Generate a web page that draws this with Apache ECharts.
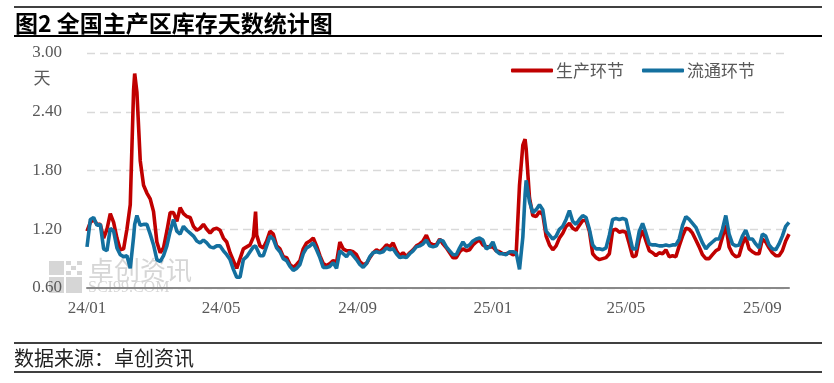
<!DOCTYPE html>
<html><head><meta charset="utf-8">
<script src="https://cdn.jsdelivr.net/npm/echarts@6/dist/echarts.min.js"></script>
<style>html,body{margin:0;padding:0;background:#fff}#c{width:834px;height:383px}</style>
</head><body><div id="c"></div>
<script>
// ---- data ----
const dates = [
'2024-01-01','2024-01-04','2024-01-07','2024-01-10','2024-01-13','2024-01-16','2024-01-19','2024-01-22','2024-01-25','2024-01-28','2024-01-31',
'2024-02-03','2024-02-06','2024-02-09','2024-02-12','2024-02-13','2024-02-15','2024-02-18','2024-02-21','2024-02-24','2024-02-27',
'2024-03-01','2024-03-04','2024-03-07','2024-03-10','2024-03-13','2024-03-16','2024-03-19','2024-03-22','2024-03-25','2024-03-28','2024-03-31',
'2024-04-03','2024-04-06','2024-04-09','2024-04-12','2024-04-15','2024-04-18','2024-04-21','2024-04-24','2024-04-27','2024-04-30',
'2024-05-03','2024-05-06','2024-05-09','2024-05-12','2024-05-15','2024-05-18','2024-05-21','2024-05-24','2024-05-27','2024-05-30',
'2024-06-01','2024-06-02','2024-06-05','2024-06-08','2024-06-11','2024-06-14','2024-06-17','2024-06-20','2024-06-23','2024-06-26','2024-06-29',
'2024-07-02','2024-07-05','2024-07-08','2024-07-11','2024-07-14','2024-07-17','2024-07-20','2024-07-23','2024-07-26','2024-07-29',
'2024-08-01','2024-08-04','2024-08-07','2024-08-10','2024-08-13','2024-08-16','2024-08-19','2024-08-22','2024-08-25','2024-08-28','2024-08-31',
'2024-09-03','2024-09-06','2024-09-09','2024-09-12','2024-09-15','2024-09-18','2024-09-21','2024-09-24','2024-09-27','2024-09-30',
'2024-10-03','2024-10-06','2024-10-09','2024-10-12','2024-10-15','2024-10-18','2024-10-21','2024-10-24','2024-10-27','2024-10-30',
'2024-11-02','2024-11-05','2024-11-08','2024-11-11','2024-11-14','2024-11-17','2024-11-20','2024-11-23','2024-11-26','2024-11-29',
'2024-12-02','2024-12-05','2024-12-08','2024-12-11','2024-12-14','2024-12-17','2024-12-20','2024-12-23','2024-12-26','2024-12-29',
'2025-01-01','2025-01-04','2025-01-07','2025-01-10','2025-01-13','2025-01-16','2025-01-19','2025-01-22','2025-01-25','2025-01-28','2025-01-30','2025-01-31',
'2025-02-03','2025-02-06','2025-02-09','2025-02-12','2025-02-15','2025-02-18','2025-02-21','2025-02-24','2025-02-27',
'2025-03-02','2025-03-05','2025-03-08','2025-03-11','2025-03-14','2025-03-17','2025-03-20','2025-03-23','2025-03-26','2025-03-29',
'2025-04-01','2025-04-04','2025-04-07','2025-04-10','2025-04-13','2025-04-16','2025-04-19','2025-04-22','2025-04-25','2025-04-28',
'2025-05-01','2025-05-04','2025-05-07','2025-05-10','2025-05-13','2025-05-16','2025-05-19','2025-05-22','2025-05-25','2025-05-28','2025-05-31',
'2025-06-03','2025-06-06','2025-06-09','2025-06-12','2025-06-15','2025-06-18','2025-06-21','2025-06-24','2025-06-27','2025-06-30',
'2025-07-03','2025-07-06','2025-07-09','2025-07-12','2025-07-15','2025-07-18','2025-07-21','2025-07-24','2025-07-27','2025-07-30',
'2025-08-02','2025-08-05','2025-08-08','2025-08-11','2025-08-14','2025-08-17','2025-08-20','2025-08-23','2025-08-26','2025-08-29',
'2025-09-01','2025-09-04','2025-09-07','2025-09-10','2025-09-13','2025-09-16','2025-09-19','2025-09-22','2025-09-25'
];
// 生产环节
const production = [
1.18,1.27,1.30,1.25,1.25,1.11,1.20,1.36,1.27,1.11,0.99,
1.00,1.20,1.45,2.62,2.79,2.60,1.90,1.65,1.57,1.51,
1.38,1.07,0.96,1.01,1.18,1.37,1.37,1.28,1.42,1.36,1.33,
1.32,1.23,1.19,1.21,1.25,1.20,1.16,1.20,1.21,1.19,
1.11,1.07,0.96,0.88,0.80,0.90,1.00,1.02,1.04,1.12,
1.38,1.14,1.03,1.01,1.08,1.18,1.15,1.03,1.00,0.92,0.91,
0.84,0.81,0.84,0.88,1.00,1.06,1.08,1.11,1.03,0.93,
0.85,0.83,0.85,0.88,0.86,1.07,1.00,0.98,0.98,0.97,0.94,
0.87,0.84,0.85,0.91,0.96,0.99,0.97,1.00,1.04,1.02,
1.06,0.98,0.93,0.96,0.92,0.96,0.99,1.03,1.05,1.08,
1.14,1.06,1.04,1.04,1.10,1.05,1.01,0.96,0.91,0.91,
0.97,1.00,0.98,0.99,1.04,1.07,1.09,1.04,1.02,1.02,
1.02,0.98,0.97,0.95,0.95,0.96,0.94,0.95,1.65,2.06,2.12,2.02,
1.52,1.34,1.33,1.38,1.35,1.13,1.04,0.99,1.03,
1.11,1.16,1.23,1.26,1.21,1.19,1.24,1.29,1.29,1.18,
0.95,0.91,0.89,0.90,0.91,0.95,1.19,1.20,1.17,1.18,
1.17,1.05,0.92,0.93,1.10,1.19,1.08,0.98,0.96,0.93,0.96,
0.95,0.99,0.92,0.93,0.92,1.03,1.13,1.21,1.20,1.16,
1.09,1.02,0.94,0.90,0.90,0.94,0.98,1.00,1.12,1.24,
1.02,0.95,0.92,0.93,1.05,1.12,1.00,0.97,0.95,0.95,
1.10,1.07,1.01,0.96,0.93,0.93,0.98,1.08,1.15
];
// 流通环节
const circulation = [
1.02,1.30,1.32,1.24,1.25,1.00,0.98,1.21,1.18,1.01,0.94,
0.92,0.93,0.80,1.12,1.25,1.34,1.24,1.25,1.25,1.15,
1.04,0.89,0.87,0.93,1.03,1.18,1.30,1.18,1.15,1.23,1.19,
1.16,1.13,1.08,1.06,1.09,1.06,1.02,1.01,1.03,1.03,
0.98,0.94,0.89,0.79,0.71,0.71,0.89,0.92,0.97,1.02,
1.03,1.02,0.93,0.93,1.03,1.13,1.10,1.01,0.97,0.90,0.88,
0.82,0.78,0.80,0.84,0.95,1.01,1.03,1.06,0.99,0.91,
0.81,0.81,0.82,0.86,0.80,0.98,0.95,0.92,0.97,0.93,0.89,
0.84,0.81,0.85,0.92,0.96,0.97,0.96,0.97,1.01,0.99,
1.00,0.95,0.91,0.92,0.91,0.95,0.98,1.02,1.03,1.05,
1.09,1.03,1.02,1.03,1.09,1.08,1.02,0.98,0.94,0.94,
1.01,1.07,1.02,1.04,1.08,1.10,1.11,1.09,1.00,1.02,
1.07,0.98,0.95,0.95,0.94,0.97,0.97,0.96,0.79,1.12,1.55,1.70,
1.48,1.37,1.40,1.45,1.40,1.18,1.14,1.10,1.13,
1.20,1.23,1.30,1.39,1.28,1.25,1.30,1.34,1.32,1.20,
1.04,1.00,1.00,0.99,1.01,1.14,1.30,1.31,1.30,1.31,
1.30,1.15,1.00,1.00,1.18,1.26,1.16,1.05,1.04,1.04,1.03,
1.03,1.04,1.03,1.04,1.04,1.10,1.24,1.33,1.30,1.26,
1.22,1.14,1.06,1.00,1.04,1.07,1.10,1.10,1.20,1.34,
1.15,1.05,1.03,1.04,1.13,1.19,1.10,1.10,1.05,1.01,
1.15,1.13,1.04,1.00,0.99,1.05,1.13,1.23,1.27
];
const seriesNames = ['生产环节', '流通环节'];
const seriesColors = ['#C00000', '#14709F'];
const labelMonths = ['01', '05', '09'];
const axisStart = '2024-01-01';
const axisEnd = '2025-09-25';
const yMin = 0.6, yMax = 3.0, yStep = 0.6;

// daily category axis (axis structure only)
const days = [];
{
  const s = new Date(axisStart + 'T00:00:00Z').getTime();
  const e = new Date(axisEnd + 'T00:00:00Z').getTime();
  for (let t = s; t <= e; t += 86400000) days.push(new Date(t).toISOString().slice(0, 10));
}

const chart = echarts.init(document.getElementById('c'), null, {renderer: 'canvas'});
const serif = '"Liberation Serif", "DejaVu Serif", serif';
const cjk = '"Noto Sans CJK SC", sans-serif';

chart.setOption({
  animation: false,
  backgroundColor: '#ffffff',
  grid: {left: 87, right: 45, top: 53, bottom: 95, containLabel: false},
  legend: {
    left: 511, top: 62, padding: 0, itemWidth: 42, itemHeight: 4, itemGap: 18,
    icon: 'roundRect',
    data: seriesNames,
    textStyle: {fontSize: 17, color: '#595959', fontFamily: cjk, padding: [0, 0, 0, -2]}
  },
  xAxis: {
    type: 'category', data: days, boundaryGap: false,
    axisLine: {lineStyle: {color: '#898989', width: 2}},
    axisTick: {show: false},
    splitLine: {show: false},
    axisLabel: {
      interval: (i, v) => v.slice(8) === '01' && labelMonths.includes(v.slice(5, 7)),
      formatter: v => v.slice(2, 4) + '/' + v.slice(5, 7),
      fontSize: 17, color: '#595959', fontFamily: serif, margin: 12, hideOverlap: false
    }
  },
  yAxis: {
    type: 'value', min: yMin, max: yMax, interval: yStep,
    axisLine: {show: false}, axisTick: {show: false},
    axisLabel: {formatter: v => v.toFixed(2), fontSize: 17, color: '#595959', fontFamily: serif, margin: 25},
    splitLine: {lineStyle: {color: '#D9D9D9', width: 1.3, type: [8, 5]}}
  },
  series: [
    {name: seriesNames[0], type: 'line', symbol: 'none', z: 3,
     data: dates.map((d, i) => [d, production[i]]),
     lineStyle: {color: seriesColors[0], width: 3.6}, itemStyle: {color: seriesColors[0]}},
    {name: seriesNames[1], type: 'line', symbol: 'none', z: 4,
     data: dates.map((d, i) => [d, circulation[i]]),
     lineStyle: {color: seriesColors[1], width: 3.6}, itemStyle: {color: seriesColors[1]}}
  ],
  graphic: [
    // header / footer rules
    {type: 'line', shape: {x1: 14, y1: 7, x2: 822, y2: 7}, style: {stroke: '#000', lineWidth: 1.5}},
    {type: 'line', shape: {x1: 14, y1: 36, x2: 822, y2: 36}, style: {stroke: '#000', lineWidth: 2}},
    {type: 'line', shape: {x1: 14, y1: 343, x2: 822, y2: 343}, style: {stroke: '#000', lineWidth: 1.5}},
    {type: 'line', shape: {x1: 14, y1: 372, x2: 822, y2: 372}, style: {stroke: '#000', lineWidth: 1.5}},
    {type: 'text', x: 15, y: 23, style: {text: '图2 全国主产区库存天数统计图', font: 'bold 23px ' + cjk, fill: '#000', verticalAlign: 'middle', align: 'left'}},
    {type: 'text', x: 14, y: 358, style: {text: '数据来源：卓创资讯', font: '20px ' + cjk, fill: '#222', verticalAlign: 'middle', align: 'left'}},
    {type: 'text', x: 42, y: 78, style: {text: '天', font: '17px ' + cjk, fill: '#595959', verticalAlign: 'middle', align: 'center'}},
    // watermark
    {type: 'rect', z: -1, shape: {x: 49, y: 261, width: 15, height: 14}, style: {fill: '#D6D6D6'}},
    {type: 'rect', z: -1, shape: {x: 66, y: 261, width: 5, height: 4}, style: {fill: '#D6D6D6'}},
    {type: 'rect', z: -1, shape: {x: 77, y: 261, width: 5, height: 4}, style: {fill: '#D6D6D6'}},
    {type: 'rect', z: -1, shape: {x: 71, y: 266, width: 5, height: 4}, style: {fill: '#D6D6D6'}},
    {type: 'rect', z: -1, shape: {x: 66, y: 271, width: 5, height: 4}, style: {fill: '#D6D6D6'}},
    {type: 'rect', z: -1, shape: {x: 77, y: 271, width: 5, height: 4}, style: {fill: '#D6D6D6'}},
    {type: 'rect', z: -1, shape: {x: 49, y: 277, width: 15, height: 16}, style: {fill: '#D6D6D6'}},
    {type: 'rect', z: -1, shape: {x: 66, y: 277, width: 16, height: 16}, style: {fill: '#D6D6D6'}},
    {type: 'text', z: -1, x: 88, y: 270, style: {text: '卓创资讯', font: '26px ' + cjk, fill: '#D6D6D6', verticalAlign: 'middle', align: 'left'}},
    {type: 'text', z: -1, x: 88, y: 288, style: {text: 'SCI99.COM', font: '16px ' + serif, fill: '#D6D6D6', verticalAlign: 'middle', align: 'left'}}
  ]
});
</script>
</body></html>
